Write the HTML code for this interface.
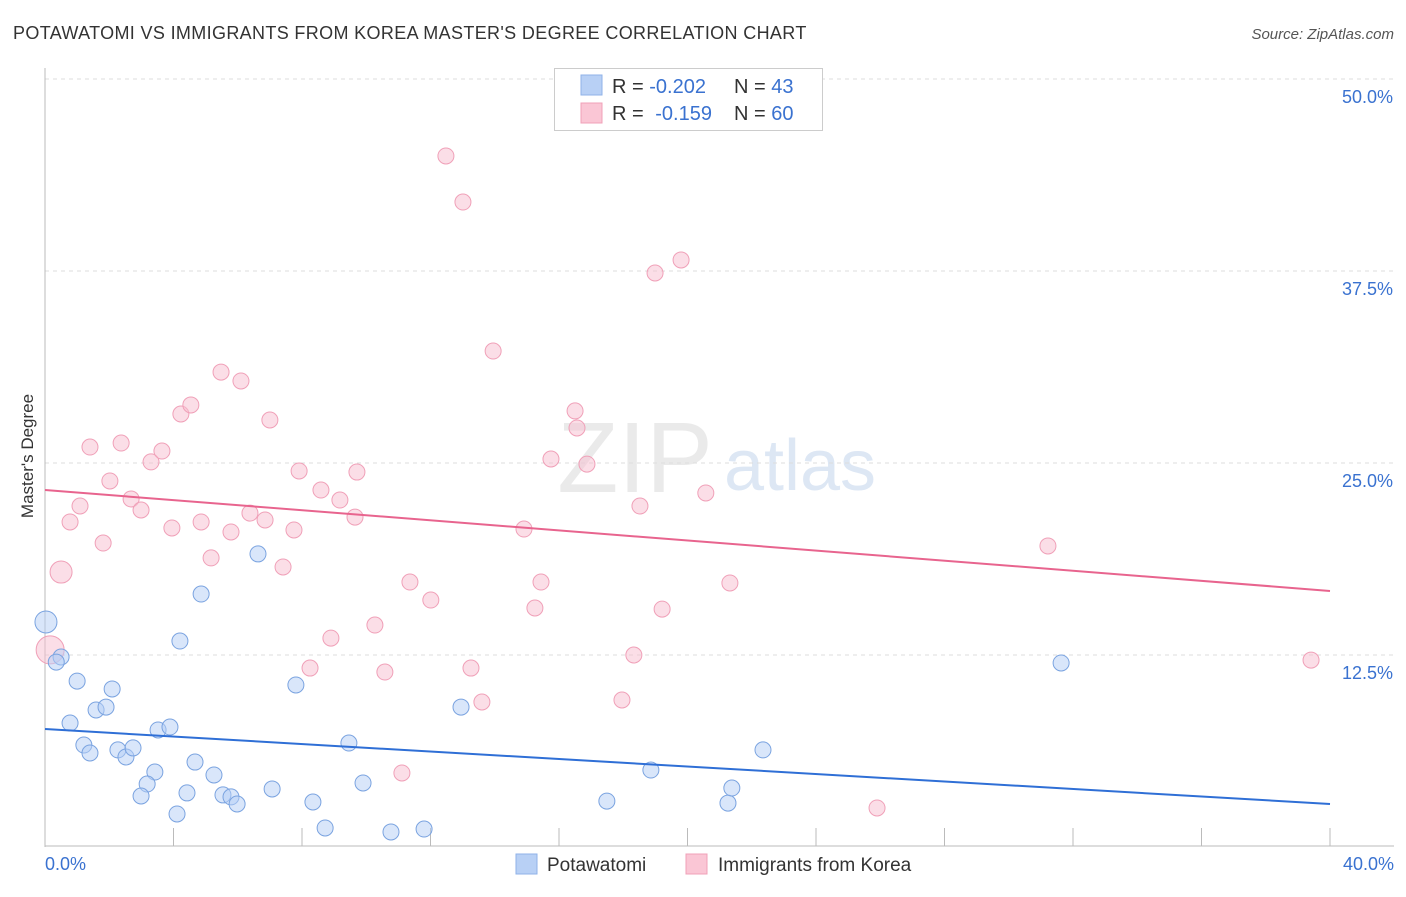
<!DOCTYPE html>
<html><head><meta charset="utf-8"><style>
body{margin:0;background:#fff;font-family:"Liberation Sans",sans-serif;}
svg text{font-family:"Liberation Sans",sans-serif;}
</style></head><body>
<svg id="chart" width="1406" height="892" viewBox="0 0 1406 892" xmlns="http://www.w3.org/2000/svg">
<text x="13" y="39" font-size="18" fill="#333" letter-spacing="0.35">POTAWATOMI VS IMMIGRANTS FROM KOREA MASTER'S DEGREE CORRELATION CHART</text>
<text x="1394" y="39" font-size="15" fill="#555" text-anchor="end" font-style="italic">Source: ZipAtlas.com</text>
<text transform="translate(33,456) rotate(-90)" font-size="17" fill="#333" text-anchor="middle">Master's Degree</text>
<g><text x="635" y="492" font-size="100" fill="#ddd" text-anchor="middle" font-family="Liberation Serif" opacity="0.6">ZIP</text><text x="800" y="490" font-size="72" fill="#c8d8ee" text-anchor="middle" opacity="0.6">atlas</text></g>
<g id="grid"></g><g id="axes"></g><g id="marks"></g>
<g>
<rect x="554.5" y="68.5" width="268" height="62" fill="#fff" stroke="#ccc"/>
<rect x="581" y="75" width="21" height="20" fill="#b8d0f5" stroke="#8fb2e8"/>
<rect x="581" y="103" width="21" height="20" fill="#fac6d5" stroke="#f0a0b8"/>
<text x="612" y="93" font-size="20" fill="#333">R = <tspan fill="#3a72d0">-0.202</tspan></text>
<text x="734" y="93" font-size="20" fill="#333">N = <tspan fill="#3a72d0">43</tspan></text>
<text x="612" y="120" font-size="20" fill="#333">R = <tspan fill="#3a72d0" dx="6">-0.159</tspan></text>
<text x="734" y="120" font-size="20" fill="#333">N = <tspan fill="#3a72d0">60</tspan></text>
</g>
<g>
<rect x="516" y="854" width="21" height="20" fill="#b8d0f5" stroke="#8fb2e8"/>
<text x="547" y="871" font-size="19" fill="#333">Potawatomi</text>
<rect x="686" y="854" width="21" height="20" fill="#fac6d5" stroke="#f0a0b8"/>
<text x="718" y="871" font-size="19" fill="#333">Immigrants from Korea</text>
</g>
</svg>
<script>
const yTicks=[12.5,25,37.5,50];
const yTickLabels=["12.5%","25.0%","37.5%","50.0%"];
const xTicks=[0,4,8,12,16,20,24,28,32,36,40];
const blueX=[0.03,0.5,0.35,1.0,2.09,1.59,1.9,0.78,1.21,1.4,2.27,2.52,2.74,3.42,3.18,2.99,4.11,4.42,3.52,3.89,4.2,4.86,4.67,5.26,5.54,5.79,5.98,6.63,7.07,7.81,8.34,8.72,9.46,9.9,10.77,11.8,12.95,17.49,18.86,21.26,21.38,22.35,31.63];
const blueY=[14.65,12.37,12.04,10.8,10.29,8.92,9.11,8.07,6.64,6.12,6.32,5.86,6.45,4.88,4.1,3.32,2.15,3.52,7.62,7.81,13.41,16.47,5.53,4.69,3.39,3.26,2.8,19.08,3.78,10.55,2.93,1.24,6.77,4.17,0.98,1.17,9.11,2.99,5.01,2.86,3.84,6.32,11.98];
const pinkX=[0.16,0.5,0.78,1.09,1.4,1.81,2.02,2.37,2.68,2.99,3.3,3.64,3.95,4.23,4.54,4.86,5.17,5.48,5.79,6.1,6.38,6.85,7.0,7.41,7.75,7.91,8.25,8.59,8.9,9.18,9.65,9.71,10.27,10.58,11.11,11.36,12.01,12.48,13.01,13.26,13.6,13.95,14.91,15.25,15.44,15.75,16.5,16.56,16.87,17.96,18.33,18.52,18.99,19.21,19.8,20.57,21.32,25.9,31.22,39.41];
const pinkY=[12.83,17.9,21.16,22.2,26.04,19.79,23.83,26.3,22.66,21.94,25.07,25.78,20.77,28.19,28.78,21.16,18.82,30.92,20.51,30.34,21.74,21.29,27.8,18.23,20.64,24.48,11.65,23.24,13.6,22.59,21.48,24.41,14.45,11.39,4.82,17.25,16.08,44.99,41.99,11.65,9.44,32.29,20.7,15.56,17.25,25.26,28.39,27.28,24.93,9.57,12.5,22.2,37.37,15.49,38.22,23.05,17.19,2.54,19.6,12.17];
const blueTrend=[7.68,2.8];
const pinkTrend=[23.24,16.67];
const NS="http://www.w3.org/2000/svg";
const xs=v=>45+v/40*1285, ys=v=>847-v/12.5*192;
function mk(t,a,p){const e=document.createElementNS(NS,t);for(const k in a)e.setAttribute(k,a[k]);p.appendChild(e);return e;}
const grid=document.getElementById('grid'),axes=document.getElementById('axes'),marks=document.getElementById('marks');
yTicks.forEach((v,i)=>{const l=mk('line',{x1:45,x2:1394,y1:ys(v),y2:ys(v),stroke:'#ddd','stroke-dasharray':'4,4'},grid);


const t=mk('text',{x:1393,y:ys(v)+24,'font-size':18,fill:'#3a72d0','text-anchor':'end'},axes);t.textContent=yTickLabels[i];

});
const ax=mk('line',{x1:45,x2:45,y1:68,y2:847,stroke:'#bbb'},axes);


const bx=mk('line',{x1:45,x2:1394,y1:846,y2:846,stroke:'#bbb'},axes);


xTicks.forEach(v=>{const l=mk('line',{x1:xs(v),x2:xs(v),y1:828,y2:846,stroke:'#bbb'},axes);

});
const x0=mk('text',{x:45,y:870,'font-size':18,fill:'#3a72d0'},axes);x0.textContent='0.0%';


const x1=mk('text',{x:1394,y:870,'font-size':18,fill:'#3a72d0','text-anchor':'end'},axes);x1.textContent='40.0%';


pinkX.forEach((v,i)=>{const c=mk('circle',{cx:xs(v),cy:ys(pinkY[i]),r:i<2?(i==0?14:11):8,fill:'rgba(248,190,208,0.5)',stroke:'#f0a0b8','stroke-width':1},marks);

});
blueX.forEach((v,i)=>{const c=mk('circle',{cx:xs(v),cy:ys(blueY[i]),r:i==0?11:8,fill:'rgba(180,205,245,0.5)',stroke:'#7aa3e0','stroke-width':1},marks);

});
const bt=mk('line',{x1:xs(0),x2:xs(40),y1:ys(blueTrend[0]),y2:ys(blueTrend[1]),stroke:'#2f6fd6','stroke-width':2},marks);


const pt=mk('line',{x1:xs(0),x2:xs(40),y1:ys(pinkTrend[0]),y2:ys(pinkTrend[1]),stroke:'#e8648e','stroke-width':2},marks);


</script>
</body></html>
